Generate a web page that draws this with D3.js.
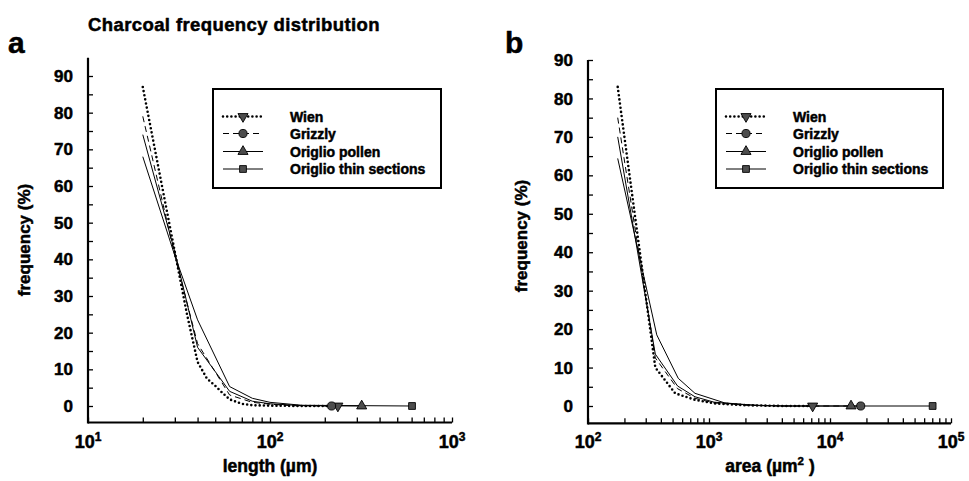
<!DOCTYPE html>
<html><head><meta charset="utf-8">
<script src="https://cdn.jsdelivr.net/npm/d3@7"></script>
<style>
body{margin:0;background:#fff}
text{font-family:"Liberation Sans",Arial,Helvetica,sans-serif;font-weight:bold;fill:#000;stroke:#000;stroke-width:0.5px;stroke-linejoin:round}
</style>
</head><body>
<svg id="chart" width="969" height="481"></svg>
<script>
// ---------- data ----------
const seriesNames = ["Wien", "Grizzly", "Origlio pollen", "Origlio thin sections"];

// panel a: length (µm) vs frequency (%)
const lenWienX  = [20, 30, 35, 40, 45, 50, 55, 60, 70, 80, 100, 150, 236];
const lenWienY  = [87, 42, 25, 12, 7.5, 5.5, 3.5, 1.8, 0.6, 0.2, 0.1, 0, 0];
const lenGrizX  = [20, 30, 40, 60, 80, 100, 130, 218];
const lenGrizY  = [79, 41, 17, 3, 1, 0.5, 0.1, 0];
const lenPollX  = [20, 30, 40, 60, 80, 100, 150, 319];
const lenPollY  = [74, 42, 16, 4, 1.3, 0.6, 0.1, 0];
const lenThinX  = [20, 30, 40, 60, 80, 100, 150, 603];
const lenThinY  = [68, 41, 23.5, 5.3, 2.1, 1, 0.2, 0];

// panel b: area (µm²) vs frequency (%)
const areaWienX = [176, 360, 525, 766, 1100, 2000, 4000, 7190];
const areaWienY = [83, 10, 3.3, 1.6, 0.7, 0.2, 0, 0];
const areaGrizX = [176, 360, 550, 766, 1100, 2000, 4000, 17940];
const areaGrizY = [75, 12.5, 4.5, 2, 0.8, 0.2, 0, 0];
const areaPollX = [176, 360, 550, 766, 1100, 2000, 4000, 14920];
const areaPollY = [70, 13.5, 5.2, 2.4, 1, 0.3, 0, 0];
const areaThinX = [176, 370, 557, 766, 1350, 2600, 5000, 70500];
const areaThinY = [64.4, 18.5, 7.2, 3.3, 0.8, 0.1, 0, 0];

// ticks
const yTickLabels = [0, 10, 20, 30, 40, 50, 60, 70, 80, 90];
const yMinorTicks = [0, 5, 10, 15, 20, 25, 30, 35, 40, 45, 50, 55, 60, 65, 70, 75, 80, 85, 90];
const lenTickExps  = [1, 2, 3];
const areaTickExps = [2, 3, 4, 5];

// ---------- styles ----------
const styles = [
  {dash: "0,4.2", width: 2.6, cap: "round", sym: "down"},
  {dash: "6,4",   width: 1,   cap: "butt",  sym: "circle"},
  {dash: null,    width: 1,   cap: "butt",  sym: "up"},
  {dash: null,    width: 1,   cap: "butt",  sym: "square"}
];

const svg = d3.select("#chart");

function logMinor(lo, hi) {
  const t = [];
  for (let e = lo; e < hi; e++) for (let m = 1; m <= 9; m++) t.push(m * Math.pow(10, e));
  t.push(Math.pow(10, hi));
  return t;
}

function marker(g, sym, cx, cy) {
  let path, rot = 0;
  if (sym === "circle") path = d3.symbol(d3.symbolCircle, 52)();
  else if (sym === "square") path = d3.symbol(d3.symbolSquare, 46)();
  else { path = d3.symbol(d3.symbolTriangle, 44)(); if (sym === "down") rot = 180; }
  g.append("path").attr("d", path)
    .attr("transform", `translate(${cx},${cy}) rotate(${rot})`)
    .attr("fill", "#4d4d4d").attr("stroke", "#000").attr("stroke-width", 0.9);
}

function drawPanel(p) {
  const g = svg.append("g");
  const x = d3.scaleLog().domain(p.xDomain).range(p.xRange);
  const y = d3.scaleLinear().domain([0, 90]).range(p.yRange);
  const axisY = y(-4.5);
  const x0 = x(p.xDomain[0]);

  // x ticks (pointing up)
  g.append("g").attr("transform", `translate(0,${axisY})`)
    .call(d3.axisBottom(x).tickValues(logMinor(Math.log10(p.xDomain[0]), Math.log10(p.xDomain[1])))
      .tickSize(-5).tickSizeOuter(0).tickFormat(""))
    .call(a => a.select(".domain").remove())
    .selectAll("line").attr("stroke", "#000").attr("stroke-width", 1.3);

  // y ticks (pointing right)
  g.append("g").attr("transform", `translate(${x0},0)`)
    .call(d3.axisLeft(y).tickValues(yMinorTicks).tickSize(-5).tickSizeOuter(0).tickFormat(""))
    .call(a => a.select(".domain").remove())
    .selectAll("line").attr("stroke", "#000").attr("stroke-width", 1.3);

  // axis lines
  g.append("line").attr("x1", x0).attr("x2", x(p.xDomain[1]))
    .attr("y1", axisY).attr("y2", axisY).attr("stroke", "#000").attr("stroke-width", 2.2);
  g.append("line").attr("x1", x0).attr("x2", x0)
    .attr("y1", axisY + 1.1).attr("y2", y(p.yTop)).attr("stroke", "#000").attr("stroke-width", 2.2);

  // y tick labels
  g.selectAll(".yl").data(yTickLabels).enter().append("text")
    .attr("x", x0 - 15).attr("y", d => y(d)).attr("dy", "0.36em")
    .attr("text-anchor", "end").style("font-size", "17px").text(d => d);

  // x tick labels with superscripts
  p.exps.forEach(e => {
    const t = g.append("text").attr("x", x(Math.pow(10, e))).attr("y", 448)
      .attr("text-anchor", "middle").style("font-size", "18px");
    t.append("tspan").text("10");
    t.append("tspan").attr("dy", -7).style("font-size", "12px").text(e);
  });

  // axis titles
  const xt = g.append("text").attr("x", p.xTitleX).attr("y", 472)
    .attr("text-anchor", "middle").style("font-size", "17.5px");
  xt.append("tspan").text(p.xTitle);
  if (p.xTitleSup) {
    xt.append("tspan").attr("dy", -7).style("font-size", "11.5px").text(p.xTitleSup);
    xt.append("tspan").attr("dy", 7).text(" )");
  }
  g.append("text").attr("transform", `translate(${p.yTitleX},${p.yTitleY}) rotate(-90)`)
    .attr("text-anchor", "middle").style("font-size", "17px").text("frequency (%)");

  // panel letter
  g.append("text").attr("x", p.letterX).attr("y", 53).style("font-size", "30px").text(p.letter);

  // lines
  const line = d3.line().x(d => x(d[0])).y(d => y(d[1]));
  p.series.forEach((s, i) => {
    const st = styles[i];
    const pts = s.x.map((v, k) => [v, s.y[k]]);
    g.append("path").datum(pts).attr("d", line).attr("fill", "none")
      .attr("stroke", "#000").attr("stroke-width", st.width)
      .attr("stroke-linecap", st.cap).attr("stroke-linejoin", "round")
      .attr("stroke-dasharray", st.dash);
  });
  // end markers
  p.series.forEach((s, i) => {
    const n = s.x.length - 1;
    marker(g, styles[i].sym, x(s.x[n]), y(s.y[n]));
  });

  // legend
  const L = p.legend;
  g.append("rect").attr("x", L.x).attr("y", L.y).attr("width", L.w).attr("height", L.h)
    .attr("fill", "#fff").attr("stroke", "#000").attr("stroke-width", 2);
  const rowY = [27.5, 44.5, 62.5, 80];
  seriesNames.forEach((nm, i) => {
    const st = styles[i];
    const ry = L.y + rowY[i];
    g.append("line").attr("x1", L.x + 10).attr("x2", L.x + 50).attr("y1", ry).attr("y2", ry)
      .attr("stroke", "#000").attr("stroke-width", st.width)
      .attr("stroke-linecap", st.cap).attr("stroke-dasharray", st.dash);
    marker(g, st.sym, L.x + 30, ry);
    g.append("text").attr("x", L.x + 77).attr("y", ry).attr("dy", "0.36em")
      .style("font-size", "14px").text(nm);
  });
}

// title
svg.append("text").attr("x", 88).attr("y", 31).style("font-size", "18.5px")
  .style("letter-spacing", "0.4px").text("Charcoal frequency distribution");

drawPanel({
  letter: "a", letterX: 8,
  xDomain: [10, 1000], xRange: [88, 452], yRange: [406, 76], yTop: 95,
  exps: lenTickExps, xTitle: "length (µm)", xTitleX: 270,
  yTitleX: 30, yTitleY: 240,
  legend: {x: 213, y: 89, w: 228, h: 99},
  series: [
    {x: lenWienX, y: lenWienY}, {x: lenGrizX, y: lenGrizY},
    {x: lenPollX, y: lenPollY}, {x: lenThinX, y: lenThinY}
  ]
});

drawPanel({
  letter: "b", letterX: 505,
  xDomain: [100, 100000], xRange: [588, 951], yRange: [406, 60], yTop: 90,
  exps: areaTickExps, xTitle: "area (µm", xTitleSup: "2", xTitleX: 770,
  yTitleX: 527, yTitleY: 236,
  legend: {x: 716, y: 89, w: 227, h: 99},
  series: [
    {x: areaWienX, y: areaWienY}, {x: areaGrizX, y: areaGrizY},
    {x: areaPollX, y: areaPollY}, {x: areaThinX, y: areaThinY}
  ]
});
</script>
</body></html>
